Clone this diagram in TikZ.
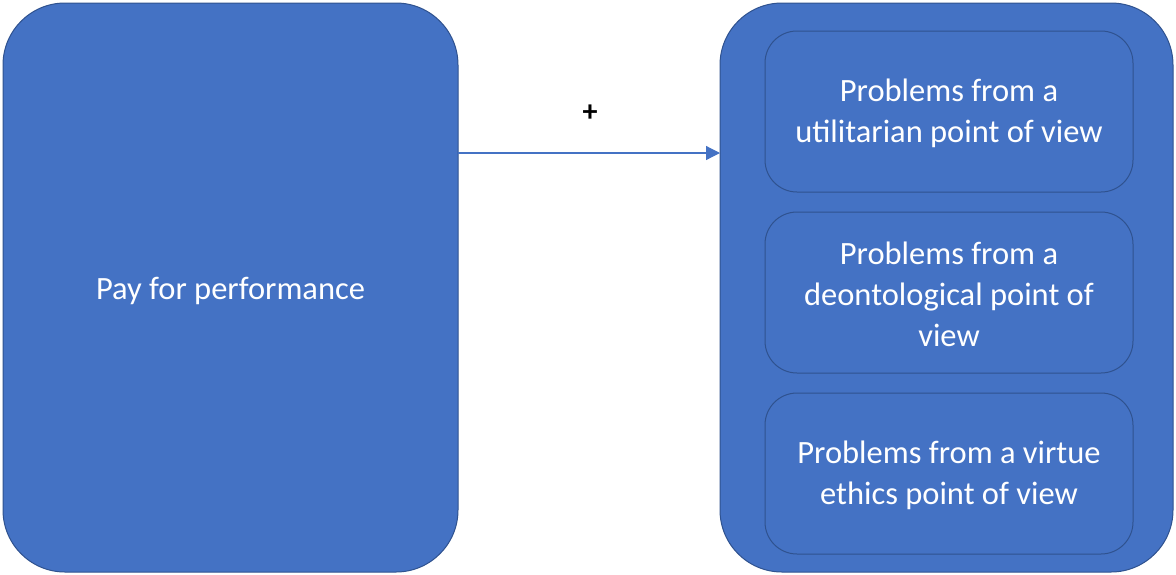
\documentclass[tikz,border=0pt]{standalone}
\usepackage{fontspec}
\setmainfont{Carlito}
\usetikzlibrary{arrows.meta}
\definecolor{boxfill}{HTML}{4472C4}
\definecolor{boxline}{HTML}{2F528F}
\tikzset{
  bigbox/.style={draw=boxline, line width=1pt, fill=boxfill, rounded corners=62pt},
  innerbox/.style={draw=boxline, line width=1pt, fill=boxfill, rounded corners=32pt},
  boxtext/.style={text=white, align=center, font=\fontsize{32.5}{41}\selectfont},
  conn/.style={draw=boxfill, line width=1.2pt, -{Triangle[length=14pt,width=14pt]}}
}
\begin{document}
\begin{tikzpicture}[x=1pt,y=-1pt]
\useasboundingbox (0,0) rectangle (1176,574);
\path[bigbox] (3,3) rectangle (458,572);
\coordinate (L) at (230.5,291);
\node[boxtext] (left) at (L) {Pay for performance};
\path[bigbox] (720,3) rectangle (1173,572);
\path[innerbox] (765,31) rectangle (1133,192);
\path[innerbox] (765,212) rectangle (1133,373);
\path[innerbox] (765,393) rectangle (1133,554);
\node[boxtext] (p1) at (949,113) {Problems from a\\utilitarian point of view};
\node[boxtext] (p2) at (949,294) {Problems from a\\deontological point of\\view};
\node[boxtext] (p3) at (949,475) {Problems from a virtue\\ethics point of view};
\coordinate (a1) at (458,153);
\coordinate (a2) at (720,153);
\draw[conn] (a1) -- (a2);
\node[font=\fontsize{30}{34}\selectfont\bfseries] (plus) at (590,113) {+};
\end{tikzpicture}
\end{document}
